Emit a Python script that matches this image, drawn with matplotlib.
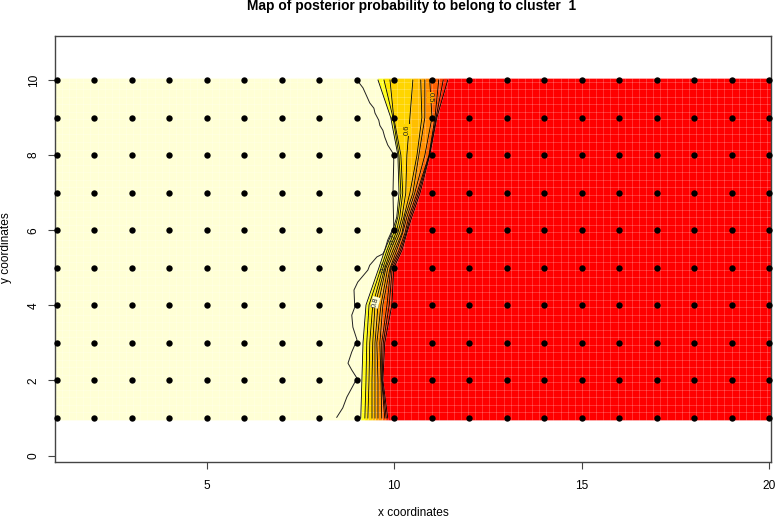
import numpy as np
import matplotlib
matplotlib.use("Agg")
import matplotlib.pyplot as plt

# observation sites
site_x = list(range(1, 21))
site_y = list(range(1, 11))

# contour lines, x position at each row of contour_y
contour_y = [10.05, 10, 9, 8, 6.99, 6.35, 5.93, 5.47, 4.99, 4.01, 3, 2.01, 1, 0.95]
c1 = [9.56, 9.57, 9.91, 10.10, 10.13, 10.07, 9.94, 9.75, 9.59, 9.25, 9.17, 9.14, 9.11, 9.10]
c2 = [9.72, 9.73, 9.97, 10.13, 10.18, 10.10, 9.99, 9.81, 9.65, 9.33, 9.27, 9.25, 9.22, 9.21]
c3 = [9.88, 9.89, 9.99, 10.18, 10.23, 10.15, 10.05, 9.86, 9.70, 9.43, 9.35, 9.33, 9.30, 9.29]
c4 = [10.50, 10.50, 10.42, 10.34, 10.31, 10.21, 10.10, 9.91, 9.75, 9.49, 9.43, 9.41, 9.41, 9.41]
c5 = [10.71, 10.71, 10.74, 10.61, 10.42, 10.26, 10.15, 9.97, 9.78, 9.57, 9.49, 9.49, 9.49, 9.49]
c6 = [10.82, 10.82, 10.82, 10.66, 10.50, 10.29, 10.21, 10.02, 9.83, 9.65, 9.54, 9.57, 9.57, 9.57]
c7 = [10.94, 10.95, 11.01, 10.82, 10.55, 10.34, 10.23, 10.07, 9.89, 9.70, 9.62, 9.65, 9.67, 9.68]
c8 = [11.20, 11.19, 11.09, 10.93, 10.61, 10.39, 10.29, 10.13, 9.91, 9.81, 9.67, 9.67, 9.75, 9.76]
c9 = [11.32, 11.31, 11.12, 10.94, 10.65, 10.43, 10.32, 10.17, 9.95, 9.87, 9.71, 9.68, 9.79, 9.80]
c10 = [11.45, 11.43, 11.14, 10.95, 10.69, 10.47, 10.34, 10.21, 9.99, 9.94, 9.75, 9.70, 9.83, 9.84]
contours = [c1, c2, c3, c4, c5, c6, c7, c8, c9, c10]

# the wobbly outer contour
outer_x = [9.01, 9.17, 9.35, 9.46, 9.49, 9.59, 9.62, 9.70, 9.75, 9.83, 9.97, 9.99, 9.97, 9.99,
           9.83, 9.75, 9.70, 9.54, 9.35, 9.30, 9.03, 8.93, 8.95, 8.87, 8.90, 9.01, 8.87, 8.77,
           8.87, 9.01, 8.87, 8.74, 8.63, 8.47]
outer_y = [10, 9.79, 9.39, 9.25, 9.12, 8.93, 8.79, 8.66, 8.48, 8.27, 8.05, 7.87, 6.99, 6.09,
           5.74, 5.47, 5.37, 5.29, 5.07, 4.94, 4.62, 4.41, 3.95, 3.74, 3.42, 3.08, 2.76, 2.46,
           2.28, 2.06, 1.80, 1.56, 1.27, 1.02]

# band colours, left to right
band_colors = ["#FFFFD5", "#FFFF20", "#FFE800", "#FFD500", "#FFBF00", "#FFA500",
               "#FF9000", "#FF6000", "#FF4000", "#FF2000", "#FF0000"]

label_text = ["0.6", "0.5", "0.8", "0.7", "0.7"]
label_x = [10.34, 10.97, 9.5, 9.75, 10.0]
label_y = [8.67, 9.53, 4.08, 5.0, 5.75]
label_rot = [90, -90, 75, 75, 70]
label_bg = ["#FFD500", "#FFA500", "#FFFFD5", None, None]

xticks = [5, 10, 15, 20]
yticks = [0, 2, 4, 6, 8, 10]

plt.rcParams["font.family"] = ["Liberation Sans", "DejaVu Sans"]
fig = plt.figure(figsize=(7.76, 5.18), dpi=100)
ax = fig.add_axes([55 / 776, 1 - 462.3 / 518, (771.3 - 55) / 776, (462.3 - 35.7) / 518])

edges = [[0.95] * len(contour_y)] + contours + [[20.06] * len(contour_y)]
for i, col in enumerate(band_colors):
    ax.fill_betweenx(contour_y, edges[i], edges[i + 1], color=col, lw=0, zorder=1)

# seams between image cells show up as faint lines
ax.vlines(np.arange(0.95, 20.06, 0.19), 0.95, 10.05, color="white", lw=0.7, alpha=0.2, zorder=2)
ax.hlines(np.arange(0.95, 10.06, 0.2), 0.95, 20.06, color="white", lw=0.7, alpha=0.2, zorder=2)

for c in contours:
    ax.plot(c[1:-1], contour_y[1:-1], color="black", lw=0.6, zorder=3)
ax.plot(outer_x, outer_y, color="#222222", lw=0.7, zorder=3)

for t, x, y, r, bg in zip(label_text, label_x, label_y, label_rot, label_bg):
    box = dict(facecolor=bg, edgecolor="none", pad=0.2) if bg else None
    ax.text(x, y, t, rotation=r, fontsize=5.5, ha="center", va="center", color="#222222", zorder=4, bbox=box)

gx, gy = np.meshgrid(site_x, site_y)
ax.scatter(gx.ravel(), gy.ravel(), s=21, color="black", lw=0, zorder=5, clip_on=False)

ax.set_xlim(0.955, 20.06)
ax.set_ylim(-0.178, 11.18)
ax.set_xticks(xticks)
ax.set_yticks(yticks)
ax.tick_params(length=5, width=0.8, color="#444444", labelsize=8.6)
ax.tick_params(axis="x", pad=8)
ax.tick_params(axis="y", pad=6)
for lab in ax.get_yticklabels():
    lab.set_rotation(90)
    lab.set_va("center")
for s in ax.spines.values():
    s.set_color("#444444")
    s.set_linewidth(1)

fig.text(412 / 776, 1 - 6 / 518, "Map of posterior probability to belong to cluster  1",
         fontsize=9.93, fontweight="bold", ha="center", va="center")
fig.text(413 / 776, 1 - 513 / 518, "x coordinates", fontsize=8.6, ha="center", va="center")
fig.text(6 / 776, 1 - 248 / 518, "y coordinates", fontsize=8.6, ha="center", va="center", rotation=90)

fig.savefig("out.png", dpi=100, facecolor="white")
